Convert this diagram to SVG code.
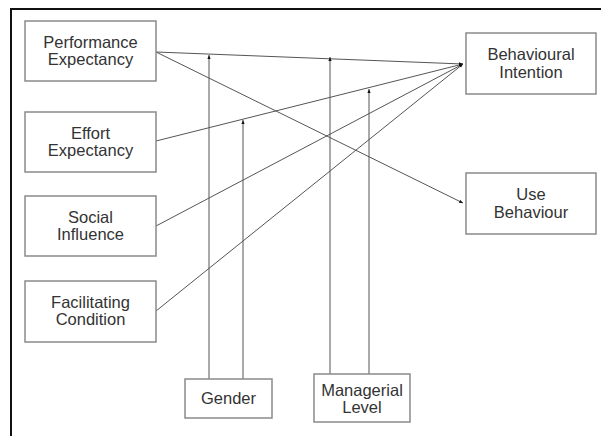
<svg xmlns="http://www.w3.org/2000/svg" width="601" height="436" viewBox="0 0 601 436">
<defs>
<style>
.box{fill:#fff;stroke:#8a8a8a;stroke-width:1.5}
.t{font-family:"Liberation Sans",Arial,sans-serif;font-size:16.5px;fill:#333;text-anchor:middle}
.ln{stroke:#555;stroke-width:1;fill:none}
.frame{stroke:#111;stroke-width:2;fill:none}
</style>
<marker id="ah" viewBox="0 0 10 10" refX="10" refY="5" markerWidth="4" markerHeight="4" orient="auto-start-reverse" markerUnits="userSpaceOnUse">
<path d="M0,1 L10,5 L0,9 z" fill="#111"/>
</marker>
</defs>
<rect width="601" height="436" fill="#fff"/>
<path class="frame" d="M11,436 V9 H601"/>
<g id="connectors">
<line class="ln" x1="156" y1="52" x2="463" y2="64" marker-end="url(#ah)"/>
<line class="ln" x1="156" y1="52" x2="463" y2="203" marker-end="url(#ah)"/>
<line class="ln" x1="156" y1="141" x2="463" y2="64" marker-end="url(#ah)"/>
<line class="ln" x1="156" y1="226" x2="463" y2="64" marker-end="url(#ah)"/>
<line class="ln" x1="156" y1="311" x2="463" y2="64" marker-end="url(#ah)"/>
<line class="ln" x1="209" y1="379" x2="209" y2="55" marker-end="url(#ah)"/>
<line class="ln" x1="243" y1="379" x2="243" y2="120" marker-end="url(#ah)"/>
<line class="ln" x1="330" y1="374" x2="330" y2="57" marker-end="url(#ah)"/>
<line class="ln" x1="369" y1="374" x2="369" y2="89" marker-end="url(#ah)"/>
</g>
<g id="pe"><rect class="box" x="25" y="21" width="131" height="60"/><text class="t" x="90.5" y="48">Performance</text><text class="t" x="90.5" y="65">Expectancy</text></g>
<g id="ee"><rect class="box" x="25" y="112" width="131" height="60"/><text class="t" x="90.5" y="139">Effort</text><text class="t" x="90.5" y="156">Expectancy</text></g>
<g id="si"><rect class="box" x="25" y="196" width="131" height="60"/><text class="t" x="90.5" y="223">Social</text><text class="t" x="90.5" y="240">Influence</text></g>
<g id="fc"><rect class="box" x="25" y="281" width="131" height="61"/><text class="t" x="90.5" y="308">Facilitating</text><text class="t" x="90.5" y="325">Condition</text></g>
<g id="bi"><rect class="box" x="466" y="33" width="130" height="61"/><text class="t" x="531" y="60">Behavioural</text><text class="t" x="531" y="78">Intention</text></g>
<g id="ub"><rect class="box" x="466" y="173" width="130" height="61"/><text class="t" x="531" y="200">Use</text><text class="t" x="531" y="218">Behaviour</text></g>
<g id="gender"><rect class="box" x="185" y="379" width="87" height="39"/><text class="t" x="228.5" y="404">Gender</text></g>
<g id="ml"><rect class="box" x="314" y="374" width="96" height="48"/><text class="t" x="362" y="396">Managerial</text><text class="t" x="362" y="413">Level</text></g>
</svg>
